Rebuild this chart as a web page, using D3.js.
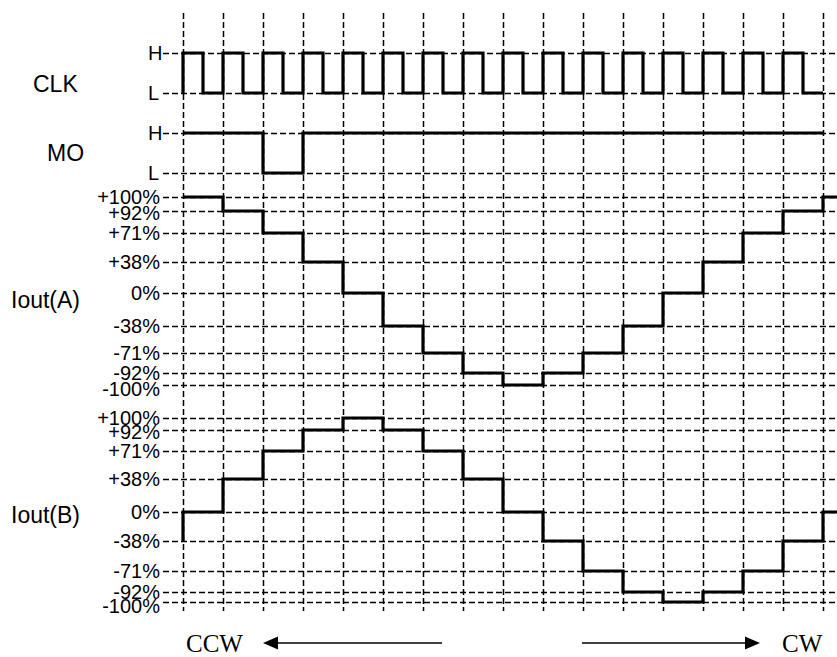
<!DOCTYPE html>
<html>
<head>
<meta charset="utf-8">
<script src="https://cdn.jsdelivr.net/npm/d3@7"></script>
<style>
body { margin: 0; background: #fff; }
.grid line { stroke: #000; stroke-width: 1.5; stroke-dasharray: 6,3; }
.grid path { display: none; }
.wave { fill: none; stroke: #000; stroke-width: 3.2; stroke-linejoin: miter; }
text { font-family: "Liberation Sans", Arial, sans-serif; fill: #000; }
.dir { font-family: "Liberation Serif", "Times New Roman", serif; }
</style>
</head>
<body>
<div id="chart"></div>
<script>
// timing chart data, one step = one clock period
var stepCount = 16;
var rowNames = ["CLK", "MO", "Iout(A)", "Iout(B)"];
var logicLevels = ["H", "L"];
var iLevels = [100, 92, 71, 38, 0, -38, -71, -92, -100];
var iLabels = ["+100%", "+92%", "+71%", "+38%", "0%", "-38%", "-71%", "-92%", "-100%"];
var dirLabels = ["CCW", "CW"];

// CLK in half periods
var clkStart = "L";
var clkValues = ["H", "L", "H", "L", "H", "L", "H", "L", "H", "L", "H", "L", "H", "L", "H", "L",
	"H", "L", "H", "L", "H", "L", "H", "L", "H", "L", "H", "L", "H", "L", "H", "L"];
var moValues = ["H", "H", "L", "H", "H", "H", "H", "H", "H", "H", "H", "H", "H", "H", "H", "H"];
// last value runs off the right edge
var iaValues = [100, 92, 71, 38, 0, -38, -71, -92, -100, -92, -71, -38, 0, 38, 71, 92, 100];
var ibStart = -38;
var ibValues = [0, 38, 71, 92, 100, 92, 71, 38, 0, -38, -71, -92, -100, -92, -71, -38, 0];

var width = 837, height = 657;
var gridLeft = 163, gridTop = 13, gridBottom = 611;

var svg = d3.select("#chart").append("svg")
	.attr("width", width)
	.attr("height", height);

var xScale = d3.scaleLinear().domain([0, stepCount]).range([183, 823]);
var clkY = d3.scalePoint().domain(logicLevels).range([53, 93]);
var moY = d3.scalePoint().domain(logicLevels).range([133, 173]);
// level spacing in the original is not proportional, so piecewise scales
var aY = d3.scaleLinear().domain(iLevels).range([197, 211, 233, 262, 293, 326, 353, 373, 385]);
var bY = d3.scaleLinear().domain(iLevels).range([418, 430, 451, 479, 512, 541, 571, 592, 602]);

// vertical dashed grid
svg.append("g").attr("class", "grid")
	.attr("transform", "translate(0," + gridTop + ")")
	.call(d3.axisTop(xScale).tickValues(d3.range(stepCount + 1)).tickSize(-(gridBottom - gridTop)).tickFormat(""));

// horizontal dashed grid + level labels for each row
function rowGrid(scale, values, labels, logic){
	var g = svg.append("g").attr("class", "grid")
		.attr("transform", "translate(" + gridLeft + ",0)")
		.call(d3.axisLeft(scale).tickValues(values).tickSize(-(width - gridLeft + 10)).tickPadding(3)
			.tickFormat(function(d, i){ return labels[i]; }));
	g.selectAll("text").style("font-size", "20px");
	if (logic) g.selectAll("text").attr("text-anchor", "start").attr("x", -15);
	else {
		// crowded labels sit a little lower in the original
		g.selectAll("text").attr("y", function(d){ return d === 92 ? 2 : (d === -100 ? 4 : 0); });
	}
	return g;
}
rowGrid(clkY, logicLevels, logicLevels, true);
rowGrid(moY, logicLevels, logicLevels, true);
rowGrid(aY, iLevels, iLabels, false);
rowGrid(bY, iLevels, iLabels, false);

// waveforms
var line = d3.line().curve(d3.curveStepAfter).x(function(d){ return xScale(d.t); }).y(function(d){ return d.y; });
function wavePoints(values, stepW, yScale, start){
	var pts = [];
	if (start !== null) pts.push({t: 0, y: yScale(start)});
	values.forEach(function(v, i){ pts.push({t: i * stepW, y: yScale(v)}); });
	pts.push({t: values.length * stepW, y: yScale(values[values.length - 1])});
	return pts;
}
svg.append("path").attr("class", "wave").attr("d", line(wavePoints(clkValues, 0.5, clkY, clkStart)));
svg.append("path").attr("class", "wave").attr("d", line(wavePoints(moValues, 1, moY, null)));
svg.append("path").attr("class", "wave").attr("d", line(wavePoints(iaValues, 1, aY, null)));
svg.append("path").attr("class", "wave").attr("d", line(wavePoints(ibValues, 1, bY, ibStart)));

// row names
var rowPos = [[33, 84], [47, 153], [11, 300], [11, 515]];
svg.selectAll(".rowname").data(rowNames).enter().append("text")
	.attr("class", "rowname")
	.attr("x", function(d, i){ return rowPos[i][0]; })
	.attr("y", function(d, i){ return rowPos[i][1]; })
	.attr("dy", "0.35em")
	.style("font-size", "23px")
	.text(function(d){ return d; });

// direction arrows
var arrowY = 643;
svg.append("text").attr("class", "dir").attr("x", 186).attr("y", 652).style("font-size", "25px").text(dirLabels[0]);
svg.append("text").attr("class", "dir").attr("x", 782).attr("y", 652).style("font-size", "25px").text(dirLabels[1]);
svg.append("line").attr("x1", 276).attr("x2", 442).attr("y1", arrowY).attr("y2", arrowY).attr("stroke", "#000").attr("stroke-width", 1.6);
svg.append("path").attr("d", "M263," + arrowY + "L278," + (arrowY - 6.5) + "L278," + (arrowY + 6.5) + "Z").attr("fill", "#000");
svg.append("line").attr("x1", 582).attr("x2", 747).attr("y1", arrowY).attr("y2", arrowY).attr("stroke", "#000").attr("stroke-width", 1.6);
svg.append("path").attr("d", "M760," + arrowY + "L745," + (arrowY - 6.5) + "L745," + (arrowY + 6.5) + "Z").attr("fill", "#000");
</script>
</body>
</html>
